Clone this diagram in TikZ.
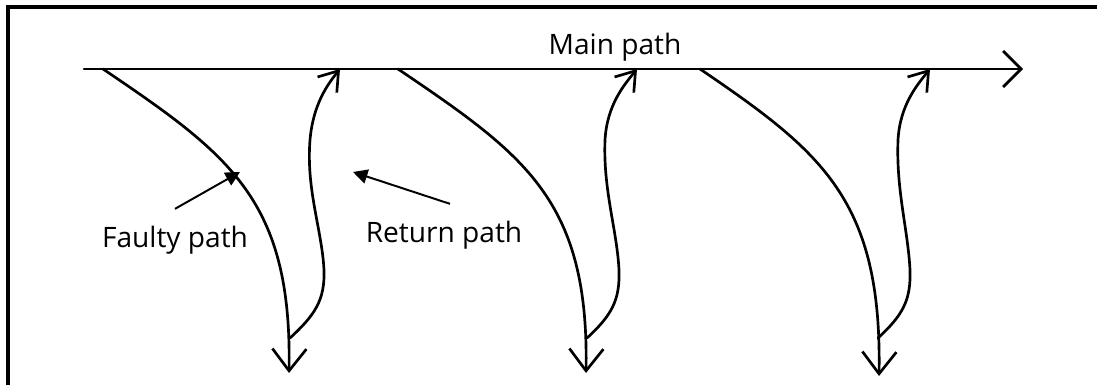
\documentclass[tikz,border=0pt]{standalone}
\usepackage{fontspec}
\setmainfont{Open Sans}
\usepackage{tikz}
\usetikzlibrary{arrows.meta,positioning,calc}

\tikzset{
  path line/.style={line width=1.9pt,line cap=round,line join=round},
  down tip/.style={-{Straight Barb[length=0.55cm,width=0.85cm,line width=1.9pt]}},
  up tip/.style={-{Straight Barb[length=0.45cm,width=0.62cm,line width=1.9pt]}},
  pointer/.style={line width=1.4pt,-{Triangle[length=0.36cm,width=0.36cm]}},
  lbl/.style={font=\fontsize{20}{24}\selectfont,inner sep=0pt}
}

\begin{document}
\begin{tikzpicture}[x=0.025cm,y=-0.025cm]
  \useasboundingbox (0,0) rectangle (1097,385);
  \draw[line width=2.2pt] (8,385) -- (8,7) -- (1097,7);
  % main line
  \coordinate (mstart) at (84,69);
  \coordinate (mend) at (1023,69);
  \draw[path line,-{Straight Barb[length=0.45cm,width=0.9cm,line width=1.9pt]}] (mstart) -- (mend);
  \node[lbl] (main) at (615,47) {Main path};
  % faulty paths
  \draw[path line,down tip] (103,69) .. controls (230,155) and (292,200) .. (289,373);
  \draw[path line,down tip] (398,69) .. controls (525,155) and (589,200) .. (586,373);
  \draw[path line,down tip] (700,69) .. controls (822,152) and (882,200) .. (879,376);
  % return paths
  \draw[path line,up tip] (290,338) .. controls (315,315) and (325,300) .. (324,270)
    .. controls (322,230) and (306,190) .. (310,140) .. controls (313,105) and (327,85) .. (340,69);
  \draw[path line,up tip] (587,338) .. controls (612,315) and (620,300) .. (619,270)
    .. controls (617,230) and (603,190) .. (605,140) .. controls (607,105) and (624,85) .. (637,69);
  \draw[path line,up tip] (878,338) .. controls (903,315) and (911,300) .. (910,270)
    .. controls (908,230) and (896,190) .. (898,140) .. controls (900,105) and (917,85) .. (930,69);
  % labels
  \node[lbl] (faulty) at (175,240) {Faulty path};
  \node[lbl] (ret) at (444,235) {Return path};
  \coordinate (ftip) at (240,172);
  \coordinate (rtip) at (353,172);
  \draw[pointer] ([yshift=0.42cm]faulty.north) -- (ftip);
  \draw[pointer] ([xshift=0.15cm,yshift=0.42cm]ret.north) -- (rtip);
\end{tikzpicture}
\end{document}
